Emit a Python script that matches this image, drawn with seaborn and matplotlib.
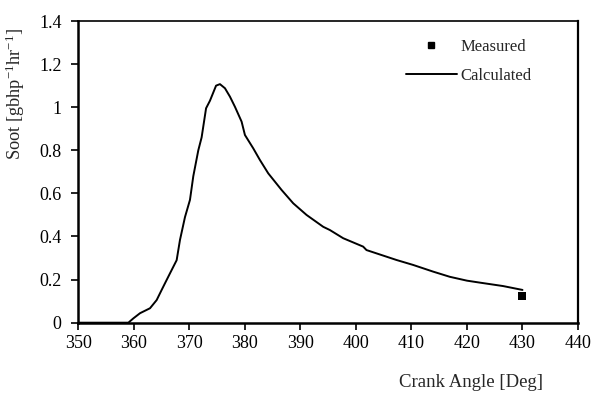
import matplotlib
matplotlib.use("Agg")
import matplotlib.pyplot as plt
import seaborn as sns
import pandas as pd
from matplotlib.lines import Line2D

# Calculated soot curve
crank_angle = [350, 355, 359.0, 359.9, 361.1, 362.9, 364.1, 365.0, 365.6, 366.5, 367.7,
               368.3, 369.2, 370.1, 370.7, 371.6, 372.2, 373.0, 373.7, 374.8, 375.5,
               376.4, 377.3, 378.2, 379.4, 380.0, 381.5, 382.7, 384.2, 386.6, 388.7,
               391.1, 394.1, 395.3, 397.7, 401.3, 401.9, 407.3, 410.3, 413.9, 416.9,
               420.0, 422.3, 426.5, 430.0]
soot_calc = [0.0, 0.0, 0.0, 0.02, 0.044, 0.067, 0.105, 0.152, 0.183, 0.229, 0.29,
             0.384, 0.49, 0.57, 0.68, 0.80, 0.86, 0.995, 1.03, 1.10, 1.107,
             1.088, 1.049, 1.002, 0.933, 0.871, 0.809, 0.755, 0.693, 0.616, 0.554,
             0.50, 0.445, 0.43, 0.392, 0.353, 0.337, 0.291, 0.268, 0.237, 0.213,
             0.195, 0.186, 0.170, 0.152]

# Measured point
meas_angle = [430]
meas_soot = [0.124]

x_ticks = [350, 360, 370, 380, 390, 400, 410, 420, 430, 440]
y_ticks = [0, 0.2, 0.4, 0.6, 0.8, 1.0, 1.2, 1.4]
y_tick_labels = ["0", "0.2", "0.4", "0.6", "0.8", "1", "1.2", "1.4"]

sns.set_style("ticks")
plt.rcParams["font.family"] = ["Liberation Serif", "DejaVu Serif"]
plt.rcParams["mathtext.fontset"] = "custom"
plt.rcParams["mathtext.rm"] = "Liberation Serif"
plt.rcParams["mathtext.it"] = "Liberation Serif:italic"

fig = plt.figure(figsize=(5.93, 3.94), dpi=100)
ax = fig.add_axes([0.1322, 0.181, 0.9747 - 0.1322, 0.9467 - 0.181])

calc_df = pd.DataFrame({"angle": crank_angle, "soot": soot_calc})
meas_df = pd.DataFrame({"angle": meas_angle, "soot": meas_soot})

sns.lineplot(data=calc_df, x="angle", y="soot", ax=ax, color="black", linewidth=1.4,
             sort=False, estimator=None)
sns.scatterplot(data=meas_df, x="angle", y="soot", ax=ax, color="black", marker="s",
                s=34, edgecolor="black", linewidth=0)

ax.set_xlim(350, 440)
ax.set_ylim(0, 1.4)
ax.set_xticks(x_ticks)
ax.set_yticks(y_ticks)
ax.set_yticklabels(y_tick_labels)
ax.tick_params(axis="both", labelsize=13, colors="black", length=5, width=1.2, direction="out")
ax.tick_params(axis="y", pad=7)
ax.tick_params(axis="x", pad=4)

for side in ["left", "bottom", "top", "right"]:
    ax.spines[side].set_visible(True)
    ax.spines[side].set_color("black")
ax.spines["left"].set_linewidth(1.8)
ax.spines["bottom"].set_linewidth(1.8)
ax.spines["top"].set_linewidth(1.2)
ax.spines["right"].set_linewidth(1.6)

ax.set_xlabel("Crank Angle [Deg]", fontsize=13.5)
ax.set_ylabel(r"Soot [gbhp$^{\mathregular{-1}}$hr$^{\mathregular{-1}}$]", fontsize=13.2)
ax.xaxis.set_label_coords(0.786, -0.17)
ax.yaxis.set_label_coords(-0.103, 0.758)

handles = [
    Line2D([], [], color="black", marker="s", linestyle="none", markersize=5),
    Line2D([], [], color="black", linewidth=1.4),
]
ax.legend(handles, ["Measured", "Calculated"], loc="upper left",
          bbox_to_anchor=(0.655, 0.94), frameon=False, fontsize=12,
          handlelength=3.1, handletextpad=0.2, labelspacing=0.75, borderpad=0,
          borderaxespad=0)

fig.savefig("out.png", dpi=100)
